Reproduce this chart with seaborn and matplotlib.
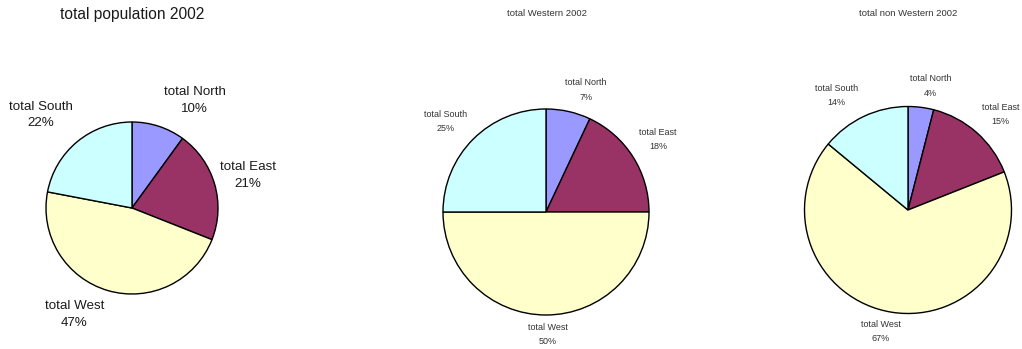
import matplotlib
matplotlib.use("Agg")
import matplotlib.pyplot as plt
import seaborn as sns

# Regional shares of the population in 2002 (percent), clockwise from the top
regions = ["total North", "total East", "total West", "total South"]
total_population = [10, 21, 47, 22]
total_western = [7, 18, 50, 25]
total_non_western = [4, 15, 67, 14]

titles = ["total population 2002", "total Western 2002", "total non Western 2002"]

sns.set_theme(style="white")
plt.rcParams["font.family"] = ["Liberation Sans", "DejaVu Sans"]
palette = sns.color_palette(["#9999FF", "#993366", "#FFFFCC", "#CCFFFF"])

W, H = 1022, 349
fig = plt.figure(figsize=(W / 100, H / 100), dpi=100)
ax = fig.add_axes([0, 0, 1, 1])


def up(y):
    # convert a top-down pixel row into the axes' bottom-up coordinate
    return H - y


# layout of each panel: pie centre, radius, title spot and font sizes,
# plus the spot where each region's label sits
panels = [
    dict(values=total_population, center=(132, 208), radius=86,
         title_xy=(132, 15), title_size=11.2, label_size=9.6, spacing=1.45,
         text_color="#1a1a1a",
         label_xy=[(194.5, 100.5), (248, 175.5), (74.5, 314.5), (41, 115)]),
    dict(values=total_western, center=(546, 212), radius=103,
         title_xy=(547, 14), title_size=6.8, label_size=6.5, spacing=1.75,
         text_color="#333333",
         label_xy=[(586, 90), (658, 139.5), (548, 334.5), (446, 121.5)]),
    dict(values=total_non_western, center=(908, 210), radius=103.5,
         title_xy=(908, 13), title_size=6.8, label_size=6.5, spacing=1.75,
         text_color="#333333",
         label_xy=[(930.5, 86), (1000.5, 114.5), (880.5, 331.5), (836.5, 95.5)]),
]

for panel, title in zip(panels, titles):
    cx, cy = panel["center"]
    ax.pie(panel["values"], colors=palette, startangle=90, counterclock=False,
           center=(cx, up(cy)), radius=panel["radius"], frame=True,
           wedgeprops=dict(edgecolor="black", linewidth=1.0))
    tx, ty = panel["title_xy"]
    ax.text(tx, up(ty), title, ha="center", va="center",
            fontsize=panel["title_size"], color=panel["text_color"])
    for name, val, (lx, ly) in zip(regions, panel["values"], panel["label_xy"]):
        ax.text(lx, up(ly), f"{name}\n{val}%", ha="center", va="center",
                fontsize=panel["label_size"], linespacing=panel["spacing"],
                color=panel["text_color"])

# pixel-space limits so every pie sits where its centre says
ax.set_xlim(0, W)
ax.set_ylim(0, H)
ax.set_aspect("equal")
ax.axis("off")

fig.savefig("out.png", dpi=100, facecolor="white")
